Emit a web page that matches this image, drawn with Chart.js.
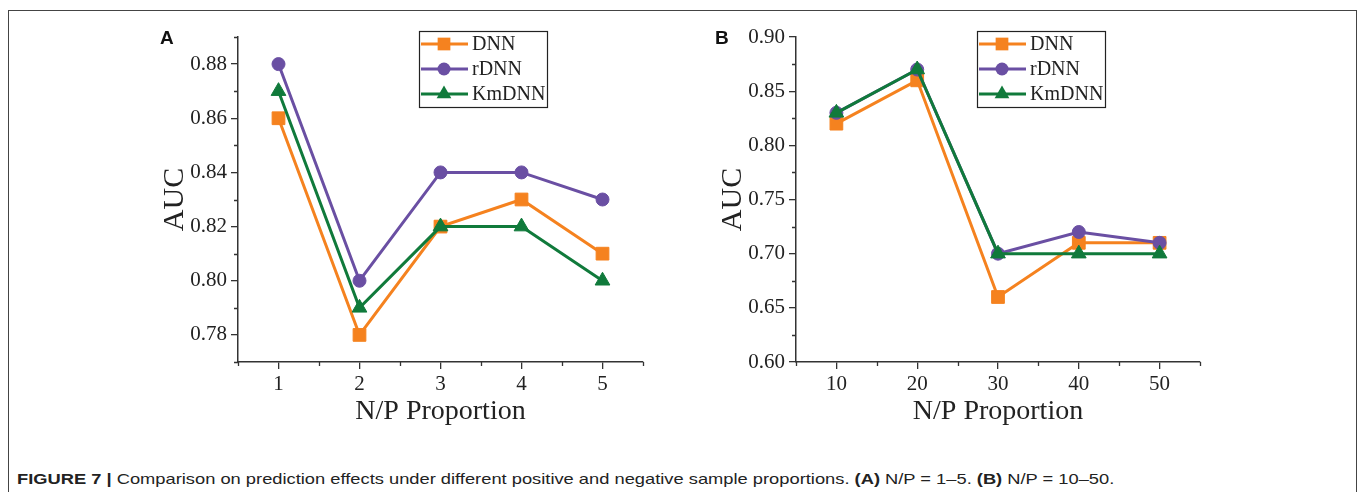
<!DOCTYPE html>
<html lang="en">
<head>
<meta charset="UTF-8">
<title>AUC under different N/P proportions</title>
<script src="https://cdn.jsdelivr.net/npm/chart.js"></script>
<style>
  body { margin: 0; background: #fff; }
  .page { position: relative; width: 1363px; height: 492px; overflow: hidden; background: #fff; }
  .frame { position: absolute; left: 8px; top: 10px; width: 1349px; height: 600px; box-sizing: border-box; border: 1px solid #444; }
  .panel { position: absolute; top: 10px; width: 530px; height: 430px; }
  .letter { position: absolute; top: 27px; font: bold 19px "Liberation Sans", Arial, sans-serif; color: #111; }
  .caption { position: absolute; left: 17px; top: 470px; font: 15px "Liberation Sans", Arial, sans-serif; color: #222; white-space: nowrap; transform: scaleX(1.22); transform-origin: left center; }
  .caption b { font-weight: bold; }
</style>
</head>
<body>
<div class="page">
  <div class="frame"></div>
  <div class="panel" style="left:130px"><canvas id="chartA" width="530" height="430"></canvas></div>
  <div class="panel" style="left:688px"><canvas id="chartB" width="530" height="430"></canvas></div>
  <div class="letter" style="left:160px">A</div>
  <div class="letter" style="left:715px">B</div>
  <div class="caption"><b>FIGURE 7 |</b> Comparison on prediction effects under different positive and negative sample proportions. <b>(A)</b> N/P = 1–5. <b>(B)</b> N/P = 10–50.</div>
</div>

<script>
// data
const seriesNames = ['DNN', 'rDNN', 'KmDNN'];

const xA = [1, 2, 3, 4, 5];
const dnnA = [0.86, 0.78, 0.82, 0.83, 0.81];
const rdnnA = [0.88, 0.80, 0.84, 0.84, 0.83];
const kmdnnA = [0.87, 0.79, 0.82, 0.82, 0.80];

const xB = [10, 20, 30, 40, 50];
const dnnB = [0.82, 0.86, 0.66, 0.71, 0.71];
const rdnnB = [0.83, 0.87, 0.70, 0.72, 0.71];
const kmdnnB = [0.83, 0.87, 0.70, 0.70, 0.70];

const yTicksA = [0.78, 0.80, 0.82, 0.84, 0.86, 0.88];
const yMinorA = [0.77, 0.79, 0.81, 0.83, 0.85, 0.87, 0.89];
const xMinorA = [0.5, 1.5, 2.5, 3.5, 4.5, 5.5];

const yTicksB = [0.60, 0.65, 0.70, 0.75, 0.80, 0.85, 0.90];
const yMinorB = [0.625, 0.675, 0.725, 0.775, 0.825, 0.875];
const xMinorB = [5, 15, 25, 35, 45, 55];

// styles
const colors = ['#F5821F', '#6A4FA3', '#107A3B'];
const pointStyles = ['rect', 'circle', 'triangle'];
const pointRadii = [9, 6.5, 8.5];
const axisColor = '#333';
const serif = '"Liberation Serif", "Times New Roman", serif';

Chart.defaults.font.family = serif;
Chart.defaults.color = '#222';

const minorTicks = {
  id: 'minorTicks',
  afterDraw(chart, args, opts) {
    const ctx = chart.ctx;
    const xs = chart.scales.x, ys = chart.scales.y;
    ctx.save();
    ctx.strokeStyle = axisColor;
    ctx.lineWidth = 1.3;
    ctx.beginPath();
    opts.x.forEach(v => {
      const px = Math.round(xs.getPixelForValue(v)) + 0.5;
      ctx.moveTo(px, xs.top);
      ctx.lineTo(px, xs.top + 4);
    });
    opts.y.forEach(v => {
      const py = Math.round(ys.getPixelForValue(v)) + 0.5;
      ctx.moveTo(ys.right, py);
      ctx.lineTo(ys.right - 4, py);
    });
    ctx.stroke();
    ctx.restore();
  }
};

function drawMarker(ctx, style, x, y, r) {
  ctx.beginPath();
  if (style === 'rect') {
    const s = r * Math.SQRT1_2;
    ctx.rect(x - s, y - s, 2 * s, 2 * s);
  } else if (style === 'circle') {
    ctx.arc(x, y, r, 0, Math.PI * 2);
  } else {
    ctx.moveTo(x, y - r);
    ctx.lineTo(x + r * Math.sin(Math.PI * 2 / 3), y + r / 2);
    ctx.lineTo(x - r * Math.sin(Math.PI * 2 / 3), y + r / 2);
    ctx.closePath();
  }
  ctx.fill();
}

const boxLegend = {
  id: 'boxLegend',
  afterDraw(chart, args, opts) {
    const ctx = chart.ctx;
    const {left, top, width, height, rowGap} = opts;
    ctx.save();
    ctx.fillStyle = '#fff';
    ctx.fillRect(left, top, width, height);
    ctx.strokeStyle = '#222';
    ctx.lineWidth = 1.2;
    ctx.strokeRect(left + 0.5, top + 0.5, width, height);
    ctx.font = '20px ' + serif;
    ctx.textBaseline = 'middle';
    seriesNames.forEach((name, i) => {
      const y = top + 13 + i * rowGap;
      ctx.strokeStyle = colors[i];
      ctx.fillStyle = colors[i];
      ctx.lineWidth = 3;
      ctx.beginPath();
      ctx.moveTo(left + 2, y);
      ctx.lineTo(left + 49, y);
      ctx.stroke();
      drawMarker(ctx, pointStyles[i], left + 25, y, pointRadii[i]);
      ctx.fillStyle = '#222';
      ctx.fillText(name, left + 53, y + 1);
    });
    ctx.restore();
  }
};

function makeDatasets(xs, series) {
  return series.map((vals, i) => ({
    label: seriesNames[i],
    data: xs.map((x, j) => ({ x: x, y: vals[j] })),
    borderColor: colors[i],
    backgroundColor: colors[i],
    borderWidth: 3,
    pointStyle: pointStyles[i],
    pointRadius: pointRadii[i],
    pointBorderWidth: 1,
    pointBorderColor: colors[i],
    pointBackgroundColor: colors[i],
    tension: 0,
    clip: false,
    order: 3 - i
  }));
}

function makeChart(id, xs, series, xRange, yRange, xTicks, yTicks, xMinor, yMinor, rightPad) {
  return new Chart(document.getElementById(id).getContext('2d'), {
    type: 'line',
    data: { datasets: makeDatasets(xs, series) },
    plugins: [minorTicks, boxLegend],
    options: {
      responsive: false,
      animation: false,
      layout: { padding: { left: 0, top: 27, right: rightPad, bottom: 0 } },
      plugins: {
        legend: { display: false },
        tooltip: { enabled: false },
        minorTicks: { x: xMinor, y: yMinor },
        boxLegend: { left: 289, top: 21, width: 128, height: 76, rowGap: 25 }
      },
      scales: {
        x: {
          type: 'linear',
          min: xRange[0],
          max: xRange[1],
          afterBuildTicks: s => { s.ticks = xTicks.map(v => ({ value: v })); },
          afterFit: s => { s.height = 78; },
          grid: { drawOnChartArea: false, tickLength: 7, color: axisColor, lineWidth: 1.3 },
          border: { display: true, color: axisColor, width: 1.5 },
          ticks: { font: { size: 21 }, padding: 3, color: '#222', callback: v => String(v) },
          title: { display: true, text: 'N/P Proportion', font: { size: 28 }, color: '#222', padding: { top: 0, bottom: 12 } }
        },
        y: {
          min: yRange[0],
          max: yRange[1],
          afterBuildTicks: s => { s.ticks = yTicks.map(v => ({ value: v })); },
          afterFit: s => { s.width = 108; },
          grid: { drawOnChartArea: false, tickLength: 7, color: axisColor, lineWidth: 1.3 },
          border: { display: true, color: axisColor, width: 1.5 },
          ticks: { font: { size: 21 }, padding: 4, color: '#222', callback: v => v.toFixed(2) },
          title: { display: true, text: 'AUC', font: { size: 30 }, color: '#222', padding: { top: 27, bottom: 0 } }
        }
      }
    }
  });
}

makeChart('chartA', xA, [dnnA, rdnnA, kmdnnA], [0.5, 5.5], [0.77, 0.89], xA, yTicksA, xMinorA, yMinorA, 17);
makeChart('chartB', xB, [dnnB, rdnnB, kmdnnB], [5, 55], [0.60, 0.90], xB, yTicksB, xMinorB, yMinorB, 18);
</script>
</body>
</html>
